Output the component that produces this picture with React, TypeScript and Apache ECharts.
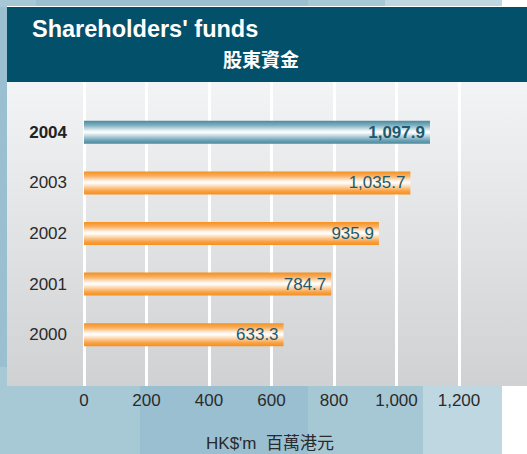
import React, { useEffect, useRef } from "react";
import * as echarts from "echarts";

const years = ["2004", "2003", "2002", "2001", "2000"];
const funds = [1097.9, 1035.7, 935.9, 784.7, 633.3];
const highlightYear = "2004";
const xTicks = [0, 200, 400, 600, 800, 1000, 1200];
const titleEn = "Shareholders' funds";
const titleZh = "股東資金";
const unitLabel = "HK$'m  百萬港元";

const fmt = (v: number) =>
  v.toLocaleString("en-US", { minimumFractionDigits: 1, maximumFractionDigits: 1 });

const orangeGrad = () =>
  new echarts.graphic.LinearGradient(0, 0, 0, 1, [
    { offset: 0, color: "#f5901c" },
    { offset: 0.2, color: "#f9b063" },
    { offset: 0.42, color: "#fff4e8" },
    { offset: 0.5, color: "#ffffff" },
    { offset: 0.62, color: "#fde0bd" },
    { offset: 0.85, color: "#f8a246" },
    { offset: 1, color: "#f5901c" },
  ]);
const tealGrad = () =>
  new echarts.graphic.LinearGradient(0, 0, 0, 1, [
    { offset: 0, color: "#4a8ba0" },
    { offset: 0.2, color: "#80b0c0" },
    { offset: 0.42, color: "#e6f0f3" },
    { offset: 0.5, color: "#ffffff" },
    { offset: 0.62, color: "#cce0e7" },
    { offset: 0.85, color: "#6ea2b4" },
    { offset: 1, color: "#4a8ba0" },
  ]);

const FONT = "'Liberation Sans', Arial, sans-serif";

export default function App() {
  const ref = useRef<HTMLDivElement>(null);
  useEffect(() => {
    document.body.style.margin = "0";
    const chart = echarts.init(ref.current!, null, { renderer: "svg" });
    const bg = (x: number, y: number, w: number, h: number, fill: any) => ({
      type: "rect",
      z: -10,
      silent: true,
      shape: { x, y, width: w, height: h },
      style: { fill },
    });
    chart.setOption({
      animation: false,
      graphic: [
        bg(0, 0, 527, 454, "#ffffff"),
        // top strip
        bg(0, 0, 36, 7, "#a6c8d5"),
        bg(36, 0, 272, 7, "#99bfd1"),
        bg(308, 0, 77, 7, "#a6c8d5"),
        bg(385, 0, 117, 7, "#bfd7e0"),
        // bottom blocks
        bg(0, 7, 140, 447, "#a7c9d6"),
        bg(140, 7, 168, 447, "#99bfd1"),
        bg(308, 7, 115, 447, "#a6c8d5"),
        bg(423, 7, 79, 447, "#bfd7e0"),
        bg(0, 7, 7, 360, "#99bfd1"),
        bg(7, 6, 520, 1, "#ffffff"),
        bg(7, 7, 520, 75, "#03506b"),
        bg(
          7,
          82,
          520,
          304,
          new echarts.graphic.LinearGradient(0, 0, 0, 1, [
            { offset: 0, color: "#f3f4f5" },
            { offset: 1, color: "#d0d1d3" },
          ])
        ),
        {
          type: "text",
          z: 10,
          x: 32,
          y: 29,
          style: {
            text: titleEn,
            fill: "#ffffff",
            font: "bold 23.5px " + FONT,
            verticalAlign: "middle",
          },
        },
        {
          type: "text",
          z: 10,
          x: 261,
          y: 58,
          style: {
            text: titleZh,
            fill: "#ffffff",
            font: "bold 19px 'Noto Sans CJK TC', sans-serif",
            align: "center",
            verticalAlign: "middle",
          },
        },
        {
          type: "text",
          z: 10,
          x: 270,
          y: 443,
          style: {
            text: unitLabel,
            fill: "#2a2a2a",
            font: "17px 'Liberation Sans', 'Noto Sans CJK TC', sans-serif",
            align: "center",
            verticalAlign: "middle",
          },
        },
      ],
      grid: [
        { left: 84, right: 68, top: 82, bottom: 68 },
        { left: 84, right: 68, top: 107, bottom: 94 },
      ],
      xAxis: [
        {
          gridIndex: 0,
          type: "value",
          min: xTicks[0],
          max: xTicks[xTicks.length - 1],
          interval: 200,
          axisLine: { show: false },
          axisTick: { show: false },
          splitLine: { show: true, lineStyle: { color: "#ffffff", width: 3 } },
          axisLabel: {
            margin: 6,
            color: "#2a2a2a",
            fontSize: 17,
            fontFamily: FONT,
            formatter: (v: number) => v.toLocaleString("en-US"),
          },
        },
        {
          gridIndex: 1,
          type: "value",
          min: 0,
          max: 1190,
          show: false,
        },
      ],
      yAxis: [
        { gridIndex: 0, type: "value", show: false },
        {
          gridIndex: 1,
          type: "category",
          inverse: true,
          data: years,
          axisLine: { show: false },
          axisTick: { show: false },
          axisLabel: {
            margin: 17,
            fontFamily: FONT,
            formatter: (v: string) => (v === highlightYear ? `{b|${v}}` : `{n|${v}}`),
            rich: {
              b: { fontSize: 17, fontWeight: "bold", color: "#222222", fontFamily: FONT },
              n: { fontSize: 17, color: "#2a2a2a", fontFamily: FONT },
            },
          },
        },
      ],
      series: [
        {
          type: "bar",
          xAxisIndex: 1,
          yAxisIndex: 1,
          barWidth: 23,
          data: funds.map((v, i) => ({
            value: v,
            itemStyle: { color: years[i] === highlightYear ? tealGrad() : orangeGrad() },
            label: {
              fontWeight: years[i] === highlightYear ? "bold" : "normal",
            },
          })),
          label: {
            show: true,
            position: "insideRight",
            distance: 5,
            color: "#1c5a70",
            fontSize: 17,
            fontFamily: FONT,
            formatter: (p: any) => fmt(p.value),
          },
        },
      ],
    });
    return () => chart.dispose();
  }, []);
  return <div ref={ref} style={{ width: 527, height: 454 }} />;
}
